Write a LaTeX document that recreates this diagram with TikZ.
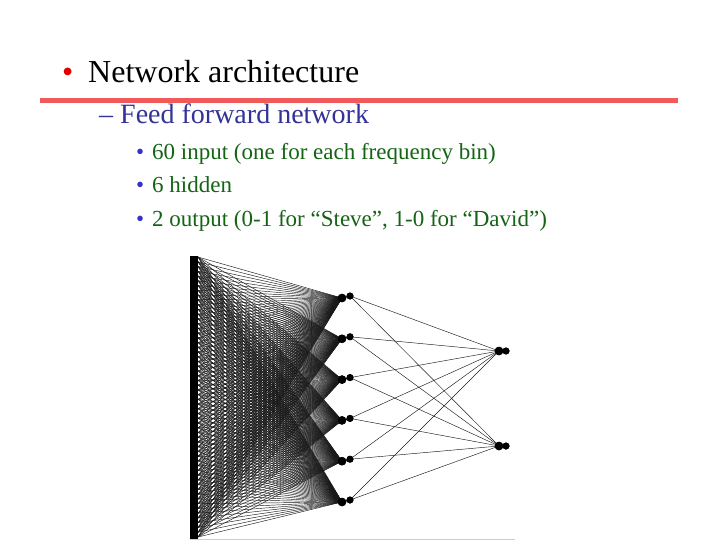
\documentclass[tikz,border=0pt]{standalone}
\usepackage{fontspec}
\setmainfont{Liberation Serif}
\definecolor{redline}{RGB}{240,90,90}
\definecolor{bulletred}{RGB}{225,0,0}
\definecolor{navytext}{RGB}{51,51,150}
\definecolor{greentext}{RGB}{20,100,20}
\definecolor{bulletblue}{RGB}{51,51,200}
\begin{document}
\begin{tikzpicture}[x=1pt,y=-1pt,
  txt/.style={anchor=base west,inner sep=0pt},
  wire/.style={line width=0.45pt,black!90},
  hdot/.style={circle,fill=black,inner sep=0pt,minimum size=7pt},
  bdot/.style={circle,fill=black,inner sep=0pt,minimum size=8.5pt}]
\useasboundingbox (0,0) rectangle (720,540);
\fill[white] (0,0) rectangle (720,540);
% texts
\node[txt,text=bulletred,font=\fontsize{32}{32}\selectfont] (b1) at (62,83) {•};
\node[txt,font=\fontsize{32}{32}\selectfont] (t1) at (88,83) {Network architecture};
\draw[redline,line width=5pt] (40,101) -- (678,101);
\node[txt,text=navytext,font=\fontsize{28}{28}\selectfont] (d2) at (99,124) {–};
\node[txt,text=navytext,font=\fontsize{28}{28}\selectfont] (t2) at (120,124) {Feed forward network};
\foreach \n/\y/\s in {3/160/{60 input (one for each frequency bin)},4/193/{6 hidden},5/226/{2 output (0-1 for “Steve”, 1-0 for “David”)}}{
  \node[txt,text=bulletblue,font=\fontsize{23}{23}\selectfont] (b\n) at (136,\y) {•};
  \node[txt,text=greentext,font=\fontsize{23}{23}\selectfont] (t\n) at (152,\y) {\s};
}
% bottom border line
\draw[black!20,line width=0.8pt] (190,539) -- (515,539);
% input bar
\node[fill=black,inner sep=0pt,minimum width=8pt,minimum height=283pt,anchor=north west] (bar) at (190,256) {};
% coordinates
\foreach \k in {1,...,60}
  \coordinate (i\k) at (198,{257+4.74576*(\k-1)});
\foreach \h in {1,...,6}{
  \node[bdot] (hl\h) at (342,{298+40.8*(\h-1)}) {};
  \node[hdot] (hr\h) at (350,{296+40.8*(\h-1)}) {};
}
\node[bdot] (ol1) at (499,351) {};
\node[hdot] (or1) at (506,351) {};
\node[bdot] (ol2) at (499,446) {};
\node[hdot] (or2) at (506,446) {};
% wires input -> hidden
\foreach \k in {1,...,60}
  \foreach \h in {1,...,6}
    \draw[wire] (i\k) -- (hl\h.center);
% wires hidden -> output
\foreach \h in {1,...,6}
  \foreach \o in {1,2}
    \draw[wire] (hr\h.center) -- (ol\o.center);
% redraw dots on top
\foreach \h in {1,...,6}{
  \fill (hl\h) circle (4.25pt);
  \fill (hr\h) circle (3.5pt);
  \draw[black,line width=1.2pt] (hl\h.center) -- (hr\h.center);
}
\foreach \o in {1,2}{
  \fill (ol\o) circle (4.25pt);
  \fill (or\o) circle (3.5pt);
  \draw[black,line width=1.2pt] (ol\o.center) -- (or\o.center);
}
\end{tikzpicture}
\end{document}
